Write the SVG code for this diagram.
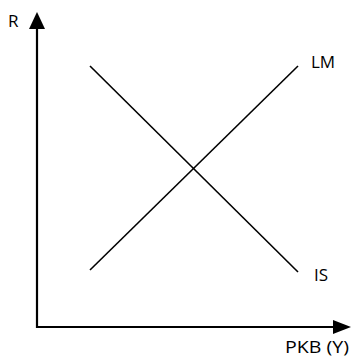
<svg xmlns="http://www.w3.org/2000/svg" width="352" height="358" viewBox="0 0 352 358">
<style>
.axis{stroke:#000;stroke-width:2.2;fill:none}
.curve{stroke:#000;stroke-width:1.6;fill:none}
text{font-family:"Open Sans","Liberation Sans",sans-serif;font-size:17px;fill:#000}
</style>
<rect width="352" height="358" fill="#fff"/>
<g id="connectors">
<polyline class="axis" points="37,28 37,327 333,327"/>
<path d="M37,12 L45,29 L29,29 Z" fill="#000"/>
<path d="M351,327 L333,320 L333,334 Z" fill="#000"/>
</g>
<g id="LM">
<line class="curve" x1="90" y1="270" x2="298" y2="66"/>
<text x="311" y="68">LM</text>
</g>
<g id="IS">
<line class="curve" x1="90" y1="66" x2="298" y2="272"/>
<text x="314" y="281">IS</text>
</g>
<g id="labels">
<text x="8" y="27">R</text>
<text x="285" y="353" textLength="64" lengthAdjust="spacingAndGlyphs">PKB (Y)</text>
</g>
</svg>
